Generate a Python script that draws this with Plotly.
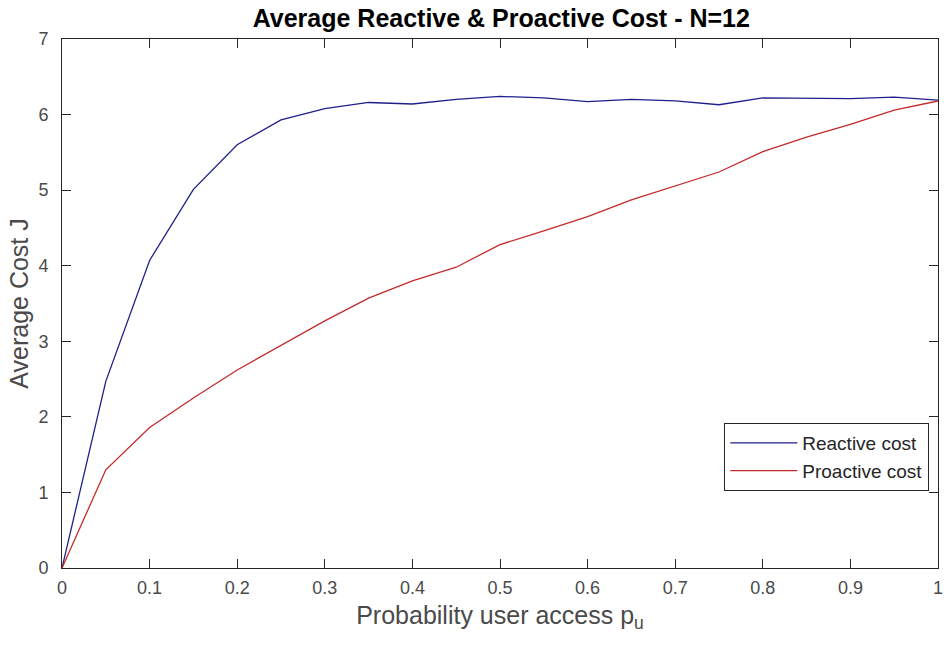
import plotly.graph_objects as go

# Access probability p_u (grid of 0.05)
p_u = [0.00, 0.05, 0.10, 0.15, 0.20, 0.25, 0.30, 0.35, 0.40, 0.45, 0.50,
       0.55, 0.60, 0.65, 0.70, 0.75, 0.80, 0.85, 0.90, 0.95, 1.00]

# Average cost J for each strategy
reactive_cost = [0.00, 2.47, 4.07, 5.01, 5.60, 5.93, 6.08, 6.16, 6.14, 6.20, 6.24,
                 6.22, 6.17, 6.20, 6.18, 6.13, 6.22, 6.21, 6.21, 6.23, 6.19]
proactive_cost = [0.00, 1.30, 1.86, 2.25, 2.62, 2.94, 3.27, 3.57, 3.80, 3.98, 4.28,
                  4.46, 4.65, 4.87, 5.05, 5.24, 5.51, 5.70, 5.87, 6.06, 6.18]

x_ticks = [0, 0.1, 0.2, 0.3, 0.4, 0.5, 0.6, 0.7, 0.8, 0.9, 1]
x_tick_text = ["0", "0.1", "0.2", "0.3", "0.4", "0.5", "0.6", "0.7", "0.8", "0.9", "1"]
y_ticks = [0, 1, 2, 3, 4, 5, 6, 7]

FONT = "Liberation Sans, Arial, sans-serif"
AXIS_COLOR = "#262626"
TEXT_GRAY = "#4a4a4a"

fig = go.Figure()
fig.add_trace(go.Scatter(
    x=p_u, y=reactive_cost, mode="lines", name="Reactive cost",
    line=dict(color="#1f1f8c", width=1.3),
))
fig.add_trace(go.Scatter(
    x=p_u, y=proactive_cost, mode="lines", name="Proactive cost",
    line=dict(color="#c42a2a", width=1.3),
))

fig.update_layout(
    width=944, height=648,
    margin=dict(l=62, r=1, t=39, b=80),
    paper_bgcolor="white", plot_bgcolor="white",
    font=dict(family=FONT, size=18, color=TEXT_GRAY),
    title=dict(
        text="<b>Average Reactive &amp; Proactive Cost - N=12</b>",
        x=0.531, xanchor="center", y=0.972, yanchor="middle",
        font=dict(family=FONT, size=25, color="#000000"),
    ),
    showlegend=True,
    legend=dict(
        x=0.756, xanchor="left", y=0.274, yanchor="top",
        bgcolor="white", bordercolor=AXIS_COLOR, borderwidth=1,
        font=dict(family=FONT, size=19, color="#262626"),
        itemwidth=67, tracegroupgap=0,
    ),
)

fig.update_xaxes(
    range=[0, 1], tickvals=x_ticks, ticktext=x_tick_text,
    showgrid=False, zeroline=False,
    showline=True, linecolor=AXIS_COLOR, linewidth=1, mirror="ticks",
    ticks="inside", ticklen=9, tickcolor=AXIS_COLOR, tickwidth=1,
    tickfont=dict(family=FONT, size=18, color=TEXT_GRAY),
    ticklabelstandoff=3, ticklabeloverflow="allow",
    title=dict(text="Probability user access p<sub>u</sub>",
               font=dict(family=FONT, size=25, color=TEXT_GRAY), standoff=9),
)
fig.update_yaxes(
    range=[0, 7], tickvals=y_ticks,
    showgrid=False, zeroline=False,
    showline=True, linecolor=AXIS_COLOR, linewidth=1, mirror="ticks",
    ticks="inside", ticklen=9, tickcolor=AXIS_COLOR, tickwidth=1,
    tickfont=dict(family=FONT, size=18, color=TEXT_GRAY),
    ticklabelstandoff=9, ticklabeloverflow="allow",
    title=dict(text="Average Cost J",
               font=dict(family=FONT, size=25, color=TEXT_GRAY), standoff=2),
)

fig.write_html("out.html")
